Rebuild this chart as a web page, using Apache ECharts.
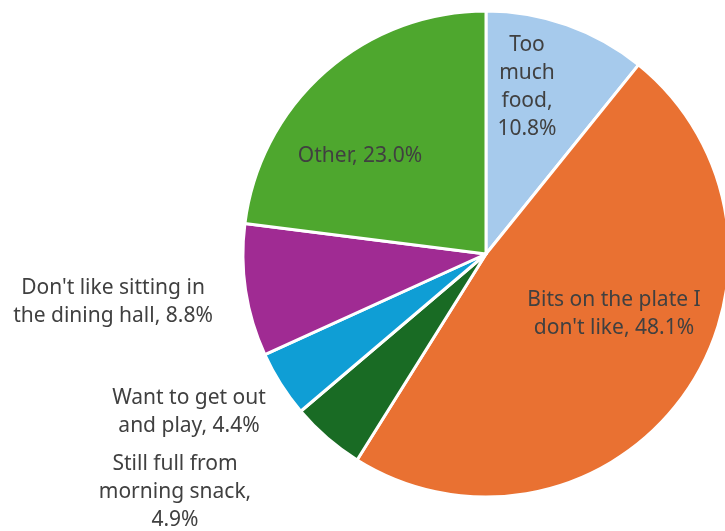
<!DOCTYPE html>
<html>
<head>
<meta charset="utf-8">
<style>
  html, body { margin: 0; padding: 0; background: #fff; }
  #chart { width: 725px; height: 531px; }
</style>
<script src="https://cdn.jsdelivr.net/npm/echarts@6/dist/echarts.min.js"></script>
</head>
<body>
<div id="chart"></div>
<script>
// Reasons children give for leaving food (share of responses, %)
const categories = [
  'Too much food',
  "Bits on the plate I don't like",
  'Still full from morning snack',
  'Want to get out and play',
  "Don't like sitting in the dining hall",
  'Other'
];
const shares = [10.8, 48.1, 4.9, 4.4, 8.8, 23.0];

// How each label's name is wrapped onto lines
const nameLines = [
  ['Too', 'much', 'food,'],
  ['Bits on the plate I', "don't like,"],
  ['Still full from', 'morning snack,'],
  ['Want to get out', 'and play,'],
  ["Don't like sitting in", 'the dining hall,'],
  ['Other,']
];

const sliceColors = ['#A6CAEC', '#E97132', '#196B24', '#0F9ED5', '#A02B93', '#4EA72E'];

// Label anchor points (label centres, in pixels)
const labelAnchors = [
  [527, 87], [614, 314], [175, 492], [189, 412], [113, 302], [360, 156]
];

function labelText(i, pct) {
  const lines = nameLines[i].slice();
  const p = pct.toFixed(1) + '%';
  const last = lines.length - 1;
  if (i === 0 || i === 2) {
    lines.push(p);
  } else {
    lines[last] = lines[last] + ' ' + p;
  }
  return lines.join('\n');
}

const chart = echarts.init(document.getElementById('chart'), null, { renderer: 'canvas' });

chart.setOption({
  animation: false,
  series: [{
    type: 'pie',
    center: [486, 254],
    radius: 243,
    startAngle: 90,
    clockwise: true,
    percentPrecision: 1,
    avoidLabelOverlap: false,
    itemStyle: { borderColor: '#ffffff', borderWidth: 3 },
    label: {
      show: true,
      position: 'inside',
      color: '#404040',
      fontFamily: 'Noto Sans, sans-serif',
      fontSize: 21,
      lineHeight: 28,
      align: 'center',
      formatter: p => labelText(p.dataIndex, p.percent)
    },
    labelLine: { show: false },
    labelLayout: p => ({
      x: labelAnchors[p.dataIndex][0],
      y: labelAnchors[p.dataIndex][1],
      align: 'center',
      verticalAlign: 'middle'
    }),
    emphasis: { disabled: true },
    data: categories.map((c, i) => ({
      name: c,
      value: shares[i],
      itemStyle: { color: sliceColors[i] }
    }))
  }]
});
</script>
</body>
</html>
